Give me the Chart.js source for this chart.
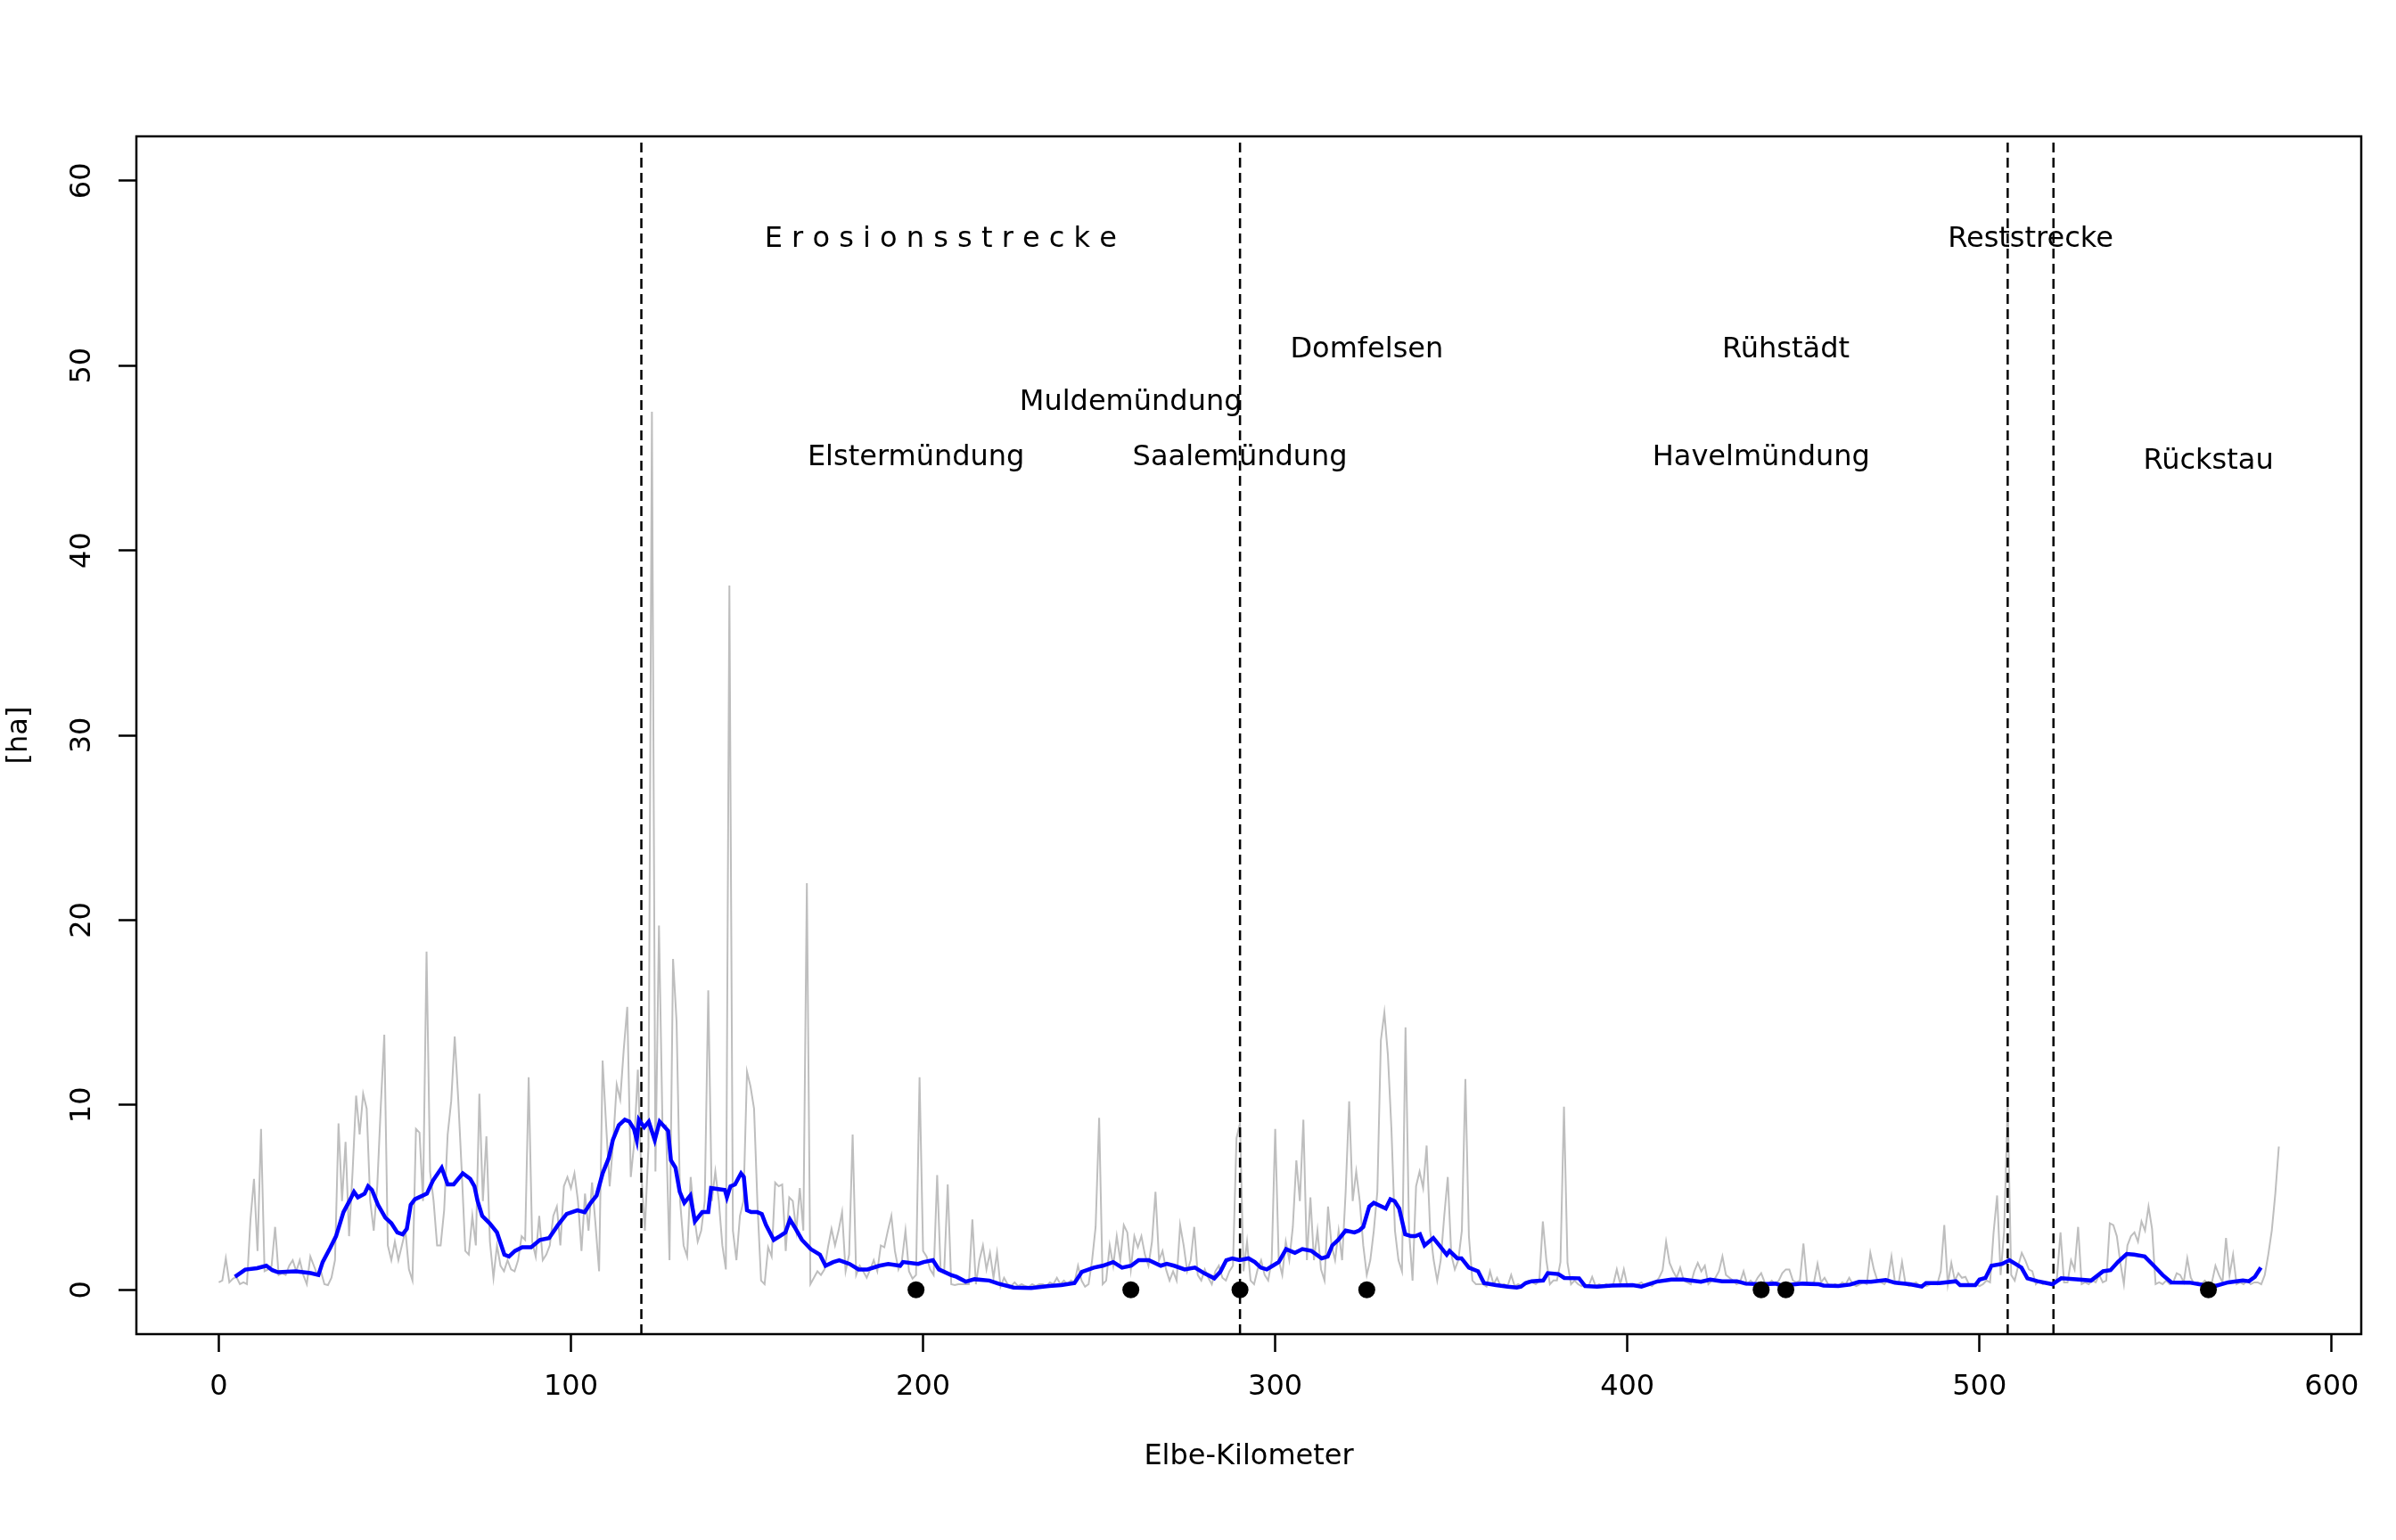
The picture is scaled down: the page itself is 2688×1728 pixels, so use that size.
<!DOCTYPE html>
<html>
<head>
<meta charset="utf-8">
<script src="https://cdn.jsdelivr.net/npm/chart.js@4.4.1/dist/chart.umd.min.js"></script>
<style>
  html, body { margin: 0; padding: 0; background: #fff; }
  canvas { display: block; }
</style>
</head>
<body>
<canvas id="chart" width="2688" height="1728"></canvas>
<script>
// raw area per Elbe-Kilometer, one value per km starting at km 0
const rawHa = [
  0.4, 0.5, 1.7, 0.4, 0.6, 0.7, 0.3, 0.4, 0.3, 3.8,
  6.0, 2.1, 8.7, 1.0, 1.1, 1.3, 3.4, 0.8, 0.9, 0.8,
  1.3, 1.6, 1.0, 1.6, 0.8, 0.3, 1.8, 1.3, 0.8, 1.0,
  0.3, 0.25, 0.65, 1.6, 9.0, 4.8, 8.0, 2.9, 6.4, 10.5,
  8.4, 10.6, 9.8, 4.8, 3.2, 5.6, 9.9, 13.8, 2.4, 1.6,
  2.6, 1.6, 2.4, 3.2, 1.1, 0.5, 8.7, 8.5, 4.8, 18.3,
  6.4, 4.8, 2.4, 2.4, 4.3, 8.4, 10.2, 13.7, 10.3, 6.4,
  2.1, 1.9, 4.0, 2.4, 10.6, 4.8, 8.3, 2.6, 0.65, 2.4,
  1.3, 1.0, 1.6, 1.1, 1.0, 1.6, 2.9, 2.7, 11.5, 2.6,
  1.8, 4.0, 1.6, 1.9, 2.4, 4.0, 4.5, 2.4, 5.6, 6.1,
  5.5, 6.3, 4.8, 2.1, 5.2, 3.2, 5.8, 3.5, 1.0, 12.4,
  8.9, 5.6, 8.0, 11.1, 10.3, 13.0, 15.3, 6.1, 8.0, 11.9,
  6.3, 3.2, 7.7, 47.5, 6.4, 19.7, 8.9, 8.9, 1.6, 17.9,
  14.5, 4.8, 2.4, 1.8, 6.1, 4.0, 2.6, 3.2, 4.8, 16.2,
  4.8, 6.4, 4.8, 2.4, 1.1, 38.1, 3.2, 1.6, 4.0, 4.8,
  11.8, 11.0, 9.8, 4.5, 0.5, 0.3, 2.3, 1.8, 5.8, 5.6,
  5.7, 2.1, 5.0, 4.8, 3.2, 5.5, 3.2, 22.0, 0.3, 0.65,
  1.0, 0.8, 1.1, 2.3, 3.3, 2.4, 3.2, 4.2, 1.0, 1.9,
  8.4, 0.8, 1.3, 1.0, 0.65, 1.1, 1.6, 1.0, 2.4, 2.3,
  3.2, 4.0, 2.1, 1.1, 1.6, 3.2, 1.0, 0.6, 0.8, 11.5,
  2.1, 1.8, 1.1, 0.8, 6.2, 1.0, 1.0, 5.7, 0.3, 0.25,
  0.3, 0.3, 0.3, 0.3, 3.8, 0.3, 1.6, 2.4, 1.1, 2.0,
  0.65, 2.0, 0.17, 0.65, 0.3, 0.2, 0.4, 0.2, 0.3, 0.2,
  0.15, 0.3, 0.2, 0.3, 0.3, 0.2, 0.4, 0.3, 0.65, 0.3,
  0.5, 0.3, 0.5, 0.4, 1.3, 0.5, 0.17, 0.3, 1.6, 3.4,
  9.3, 0.3, 0.5, 2.4, 1.3, 2.9, 1.6, 3.5, 3.1, 1.1,
  2.9, 2.3, 2.9, 1.9, 1.3, 2.6, 5.3, 1.6, 2.1, 1.1,
  0.5, 1.0, 0.5, 3.5, 2.4, 1.0, 1.6, 3.4, 0.8, 0.5,
  1.1, 0.65, 0.3, 1.0, 1.3, 0.65, 0.5, 1.0, 1.3, 8.2,
  9.0, 1.0, 2.6, 0.5, 0.3, 1.1, 1.6, 0.8, 0.5, 1.6,
  8.7, 1.6, 0.8, 2.6, 1.6, 3.4, 7.0, 4.8, 9.2, 1.6,
  5.0, 1.6, 3.2, 1.1, 0.5, 4.5, 2.4, 1.6, 3.2, 1.6,
  5.3, 10.2, 4.8, 6.4, 4.8, 2.4, 0.8, 1.6, 3.2, 5.3,
  13.5, 15.0, 12.7, 8.7, 3.2, 1.6, 1.0, 14.2, 3.2, 0.5,
  5.6, 6.4, 5.5, 7.8, 3.2, 1.6, 0.5, 1.6, 4.0, 6.1,
  1.9, 1.1, 1.6, 3.2, 11.4, 2.9, 0.5, 0.3, 0.3, 0.3,
  0.17, 1.0, 0.3, 0.65, 0.2, 0.3, 0.2, 0.8, 0.2, 0.3,
  0.2, 0.4, 0.5, 0.4, 0.3, 0.5, 3.7, 1.6, 0.3, 0.5,
  0.5, 1.5, 9.9, 1.45, 0.3, 0.5, 0.3, 0.2, 0.3, 0.2,
  0.7, 0.2, 0.3, 0.2, 0.3, 0.2, 0.3, 1.1, 0.3, 1.1,
  0.2, 0.3, 0.2, 0.3, 0.4, 0.2, 0.3, 0.2, 0.4, 0.65,
  1.05, 2.6, 1.45, 1.0, 0.65, 1.2, 0.5, 0.4, 0.3, 1.0,
  1.45, 1.0, 1.3, 0.3, 0.5, 0.65, 1.0, 1.8, 0.8, 0.65,
  0.5, 0.3, 0.4, 1.0, 0.3, 0.5, 0.3, 0.65, 0.9, 0.4,
  0.3, 0.5, 0.3, 0.5, 0.9, 1.1, 1.1, 0.5, 0.4, 0.5,
  2.5, 0.4, 0.3, 0.4, 1.4, 0.4, 0.65, 0.3, 0.2, 0.3,
  0.2, 0.4, 0.3, 0.65, 0.3, 0.2, 0.3, 0.4, 0.3, 2.0,
  1.1, 0.5, 0.4, 0.3, 0.57, 1.8, 0.4, 0.3, 1.5, 0.3,
  0.2, 0.3, 0.4, 0.2, 0.3, 0.2, 0.3, 0.4, 0.3, 1.0,
  3.5, 0.3, 1.45, 0.5, 0.9, 0.65, 0.7, 0.3, 0.2, 0.3,
  0.2, 0.3, 0.5, 0.4, 3.1, 5.1, 0.8, 3.2, 10.0, 0.8,
  0.5, 1.3, 2.0, 1.6, 1.1, 1.0, 0.3, 0.5, 0.3, 0.4,
  0.3, 0.3, 0.65, 3.1, 0.4, 0.4, 1.6, 1.1, 3.4, 0.3,
  0.4, 0.3, 0.5, 0.4, 0.8, 0.4, 0.5, 3.6, 3.5, 2.9,
  1.45, 0.3, 2.4, 2.9, 3.1, 2.6, 3.7, 3.2, 4.5, 3.3,
  0.3, 0.4, 0.3, 0.5, 0.3, 0.4, 0.9, 0.8, 0.4, 1.7,
  0.65, 0.3, 0.4, 0.3, 0.5, 0.3, 0.4, 1.3, 0.8, 0.4,
  2.8, 0.8, 1.9, 0.3, 0.4, 0.3, 0.5, 0.3, 0.4, 0.4,
  0.3, 0.8, 1.9, 3.2, 5.2, 7.75
];

// smoothed curve (blue)
const smoothKm = [
  4.6, 7.5, 10.9, 13.5, 15.2, 16.8, 21.9, 26.1, 28.3, 29.5, 31.6, 33.3, 35.4, 37.1, 38.4, 39.5,
  41.4, 42.4, 43.5, 45.2, 47.3, 49, 50.7, 52.2, 53.4, 54.5, 55.7, 59.1, 60.8, 63.3, 65, 66.7,
  69.3, 71.4, 72.6, 73.5, 74.8, 76.9, 79, 81.1, 82.4, 84.1, 86.2, 88.7, 91.2, 93.8, 96.3, 98.8,
  101.8, 103.9, 105.6, 107.3, 109, 110.7, 111.9, 113.6, 115.3, 116.6, 117.9, 118.7, 119.3, 120.8,
  122.1, 123.8, 125.2, 127.6, 128.4, 129.7, 130.9, 132.2, 133.9, 135.2, 137.3, 139, 139.8, 143.7,
  144.3, 145.3, 146.6, 148.3, 149.1, 150, 151.2, 152.9, 154.2, 155.4, 157.6, 159.3, 160.9, 162.2,
  163.5, 165.6, 168.1, 170.7, 172.3, 174.5, 176.2, 179.1, 181.7, 184.2, 187.6, 190.1, 193.5, 194.3,
  198.6, 200.2, 202.8, 204.5, 207.9, 209.5, 212.1, 214.6, 218.8, 221.4, 225.7, 230.7, 235.8, 239.2,
  243, 245.1, 248.5, 251, 254, 256.5, 259.1, 261.2, 264.1, 267.5, 269.2, 271.3, 274.3, 277.2,
  279.8, 282.7, 284.4, 286.1, 287.8, 289.9, 292.4, 294.2, 295.9, 297.6, 299.3, 301, 303.1, 305.6,
  307.7, 310.3, 313.2, 314.9, 316.2, 317.9, 320, 322.5, 323.8, 325, 326.7, 328, 331.4, 332.7,
  333.9, 335.2, 336.9, 338.6, 339.8, 341.1, 342.4, 344.9, 346.6, 348.7, 349.5, 351.7, 352.9, 355,
  357.6, 359.3, 362.7, 366, 368.6, 369.8, 371.1, 372.8, 376.1, 377.4, 380.4, 382.1, 386.3, 388,
  391.4, 395.6, 401.5, 404, 408.3, 412.5, 415.9, 420.9, 423.5, 426.9, 431.1, 433.6, 437.9, 442.1,
  443.8, 449.7, 454.4, 455.7, 459.9, 463.3, 465.8, 469.2, 473.4, 476, 480.2, 483.6, 484.8, 488.6,
  493.3, 494.5, 498.8, 500, 501.7, 503.4, 506.4, 508.5, 510.2, 511.9, 513.6, 516.5, 520.7, 523.2,
  527.5, 531.7, 535.1, 537.2, 539.3, 541.8, 543.9, 546.9, 549.5, 552, 554.5, 559.6, 563.8, 567.2,
  570.6, 574.8, 576.5, 578.2, 579.9
];
const smoothHa = [
  0.7, 1.09, 1.17, 1.3, 1.06, 0.95, 1.0, 0.9, 0.8, 1.5, 2.25, 2.9, 4.2, 4.8, 5.3, 5.0,
  5.2, 5.6, 5.4, 4.6, 3.9, 3.6, 3.1, 3.0, 3.3, 4.6, 4.9, 5.2, 5.9, 6.6, 5.7, 5.7,
  6.3, 6.0, 5.6, 4.8, 4.0, 3.6, 3.1, 1.9, 1.8, 2.1, 2.3, 2.3, 2.7, 2.8, 3.5, 4.1,
  4.3, 4.2, 4.7, 5.1, 6.3, 7.1, 8.1, 8.9, 9.2, 9.1, 8.7, 8.1, 9.2, 8.8,
  9.1, 8.1, 9.1, 8.6, 7.0, 6.6, 5.3, 4.7, 5.1, 3.7, 4.2, 4.2, 5.5, 5.4,
  5.0, 5.6, 5.7, 6.3, 6.1, 4.3, 4.2, 4.2, 4.1, 3.5, 2.7, 2.9, 3.1, 3.8,
  3.4, 2.7, 2.2, 1.9, 1.3, 1.5, 1.6, 1.4, 1.1, 1.1, 1.3, 1.4, 1.3, 1.5,
  1.4, 1.5, 1.6, 1.1, 0.8, 0.7, 0.44, 0.57, 0.5, 0.33, 0.12, 0.1, 0.2, 0.25,
  0.36, 0.97, 1.2, 1.3, 1.5, 1.2, 1.3, 1.6, 1.6, 1.3, 1.4, 1.3, 1.1, 1.2,
  0.9, 0.62, 0.97, 1.6, 1.7, 1.6, 1.7, 1.5, 1.2, 1.1, 1.3, 1.5, 2.2, 2.0,
  2.2, 2.1, 1.7, 1.8, 2.4, 2.7, 3.2, 3.1, 3.2, 3.4, 4.5, 4.7, 4.4, 4.9,
  4.8, 4.4, 3.0, 2.9, 2.9, 3.0, 2.4, 2.8, 2.4, 1.9, 2.1, 1.7, 1.7, 1.2,
  1.0, 0.36, 0.25, 0.17, 0.12, 0.17, 0.36, 0.46, 0.5, 0.9, 0.85, 0.64, 0.62, 0.2,
  0.17, 0.23, 0.25, 0.17, 0.44, 0.55, 0.55, 0.43, 0.55, 0.46, 0.46, 0.33, 0.3, 0.33,
  0.23, 0.33, 0.3, 0.23, 0.2, 0.28, 0.43, 0.43, 0.53, 0.38, 0.3, 0.17, 0.36, 0.36,
  0.46, 0.25, 0.25, 0.55, 0.64, 1.3, 1.4, 1.6, 1.4, 1.2, 0.62, 0.46, 0.3, 0.62,
  0.57, 0.5, 1.0, 1.06, 1.5, 1.94, 1.9, 1.8, 1.3, 0.8, 0.4, 0.39, 0.25, 0.22,
  0.4, 0.5, 0.46, 0.7, 1.2
];

// section borders (dashed lines)
const borderKm = [120, 290, 508, 521];

// places marked on the river
const placeKm = [198, 259, 290, 326, 438, 445, 565];
const placeName = ["Elstermündung", "Muldemündung", "Saalemündung", "Domfelsen", "Havelmündung", "Rühstädt", "Rückstau"];
const placeLabelHa = [45, 48, 45, 51, 45, 51, 45];

// section names
const sectionName = ["E r o s i o n s s t r e c k e", "Reststrecke"];
const sectionKm = [205, 514.5];
const sectionHa = [57, 57];

const xTicks = [0, 100, 200, 300, 400, 500, 600];
const yTicks = [0, 10, 20, 30, 40, 50, 60];
const xMin = -23.4, xMax = 608.4;
const yMin = -2.4, yMax = 62.4;

const FONT = '"DejaVu Sans", sans-serif';
const FS = 32;
Chart.defaults.font.family = FONT;
Chart.defaults.color = "#000";

const rawPoints = rawHa.map((v, i) => ({ x: i, y: v }));
const smoothPoints = smoothKm.map((k, i) => ({ x: k, y: smoothHa[i] }));

const borderSets = borderKm.map(k => ({
  data: [{ x: k, y: yMin }, { x: k, y: yMax }],
  showLine: true,
  borderColor: "#000",
  borderWidth: 2.5,
  borderDash: [11, 6],
  pointRadius: 0,
  order: 2
}));

// text centred on its ink box, like R's text()
function inkText(ctx, t, x, y) {
  const m = ctx.measureText(t);
  const asc = m.actualBoundingBoxAscent, desc = m.actualBoundingBoxDescent;
  ctx.fillText(t, x, y + (asc - desc) / 2);
}

const frameAndText = {
  id: "frameAndText",
  afterDatasetsDraw(chart) {
    const { ctx, chartArea, scales } = chart;
    ctx.save();
    ctx.fillStyle = "#000";
    ctx.font = FS + "px " + FONT;
    ctx.textAlign = "center";
    ctx.textBaseline = "alphabetic";
    placeName.forEach((t, i) => {
      inkText(ctx, t, scales.x.getPixelForValue(placeKm[i]), scales.y.getPixelForValue(placeLabelHa[i]));
    });
    sectionName.forEach((t, i) => {
      inkText(ctx, t, scales.x.getPixelForValue(sectionKm[i]), scales.y.getPixelForValue(sectionHa[i]));
    });
    ctx.strokeStyle = "#000";
    ctx.lineWidth = 2.5;
    ctx.strokeRect(chartArea.left, chartArea.top, chartArea.right - chartArea.left, chartArea.bottom - chartArea.top);
    ctx.restore();
  }
};

new Chart(document.getElementById("chart"), {
  type: "scatter",
  data: {
    datasets: [
      {
        data: rawPoints,
        showLine: true,
        borderColor: "#BEBEBE",
        borderWidth: 2,
        pointRadius: 0,
        order: 3
      },
      ...borderSets,
      {
        data: smoothPoints,
        showLine: true,
        borderColor: "#0000FF",
        borderWidth: 4.5,
        pointRadius: 0,
        order: 1
      },
      {
        data: placeKm.map(k => ({ x: k, y: 0 })),
        pointRadius: 9.5,
        pointBackgroundColor: "#000",
        pointBorderWidth: 0,
        order: 0
      }
    ]
  },
  options: {
    responsive: false,
    animation: false,
    devicePixelRatio: 1,
    layout: { padding: { top: 153, right: 39, left: 0, bottom: 0 } },
    plugins: { legend: { display: false }, tooltip: { enabled: false } },
    scales: {
      x: {
        type: "linear",
        min: xMin,
        max: xMax,
        afterBuildTicks: s => { s.ticks = xTicks.map(v => ({ value: v })); },
        afterFit: s => { s.height = 231; },
        ticks: { font: { size: FS }, color: "#000", padding: 20, maxRotation: 0, autoSkip: false },
        grid: { drawOnChartArea: false, drawTicks: true, tickLength: 20, tickColor: "#000", tickWidth: 2.5 },
        border: { display: false },
        title: { display: true, text: "Elbe-Kilometer", font: { size: FS }, color: "#000", padding: { top: 0, bottom: 74 } }
      },
      y: {
        type: "linear",
        min: yMin,
        max: yMax,
        afterBuildTicks: s => { s.ticks = yTicks.map(v => ({ value: v })); },
        afterFit: s => { s.width = 153; },
        ticks: { font: { size: FS }, color: "#000", padding: 20, minRotation: 90, maxRotation: 90, crossAlign: "center", autoSkip: false },
        grid: { drawOnChartArea: false, drawTicks: true, tickLength: 20, tickColor: "#000", tickWidth: 2.5 },
        border: { display: false },
        title: { display: true, text: "[ha]", font: { size: FS }, color: "#000", padding: { top: 2, bottom: 0 } }
      }
    }
  },
  plugins: [frameAndText]
});
</script>
</body>
</html>
